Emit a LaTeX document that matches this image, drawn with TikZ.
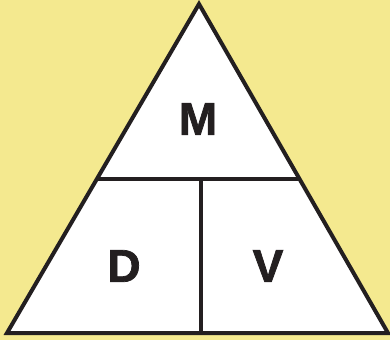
\documentclass[tikz,border=0pt]{standalone}
\usepackage{fontspec}
\setmainfont{Liberation Sans}
\newfontfamily\letterfont[FakeBold=1.6]{Liberation Sans Bold}
\usetikzlibrary{calc}
\begin{document}
\begin{tikzpicture}[x=1pt,y=1pt,
  edge/.style={draw=linecol,line width=4pt,line join=miter},
  letter/.style={font=\letterfont\fontsize{46}{46}\selectfont,text=linecol,inner sep=0pt,anchor=center}]
\definecolor{bg}{HTML}{F4E98F}
\definecolor{linecol}{HTML}{231F20}
\useasboundingbox (0,0) rectangle (390,340);
\fill[bg] (0,0) rectangle (390,340);
\coordinate (apex) at (199,336);
\coordinate (bl) at (7,7);
\coordinate (br) at (388,7);
\coordinate (ml) at ($(apex)!0.532!(bl)$);
\coordinate (mr) at ($(apex)!0.532!(br)$);
\coordinate (mt) at (201,161);
\coordinate (mb) at (201,7);
\filldraw[fill=white,edge] (apex) -- (br) -- (bl) -- cycle;
\draw[edge] (ml) -- (mr);
\draw[edge] (mt) -- (mb);
\node[letter] (M) at (198,221) {M};
\node[letter] (D) at (124,74) {D};
\node[letter] (V) at (268,74) {V};
\end{tikzpicture}
\end{document}
